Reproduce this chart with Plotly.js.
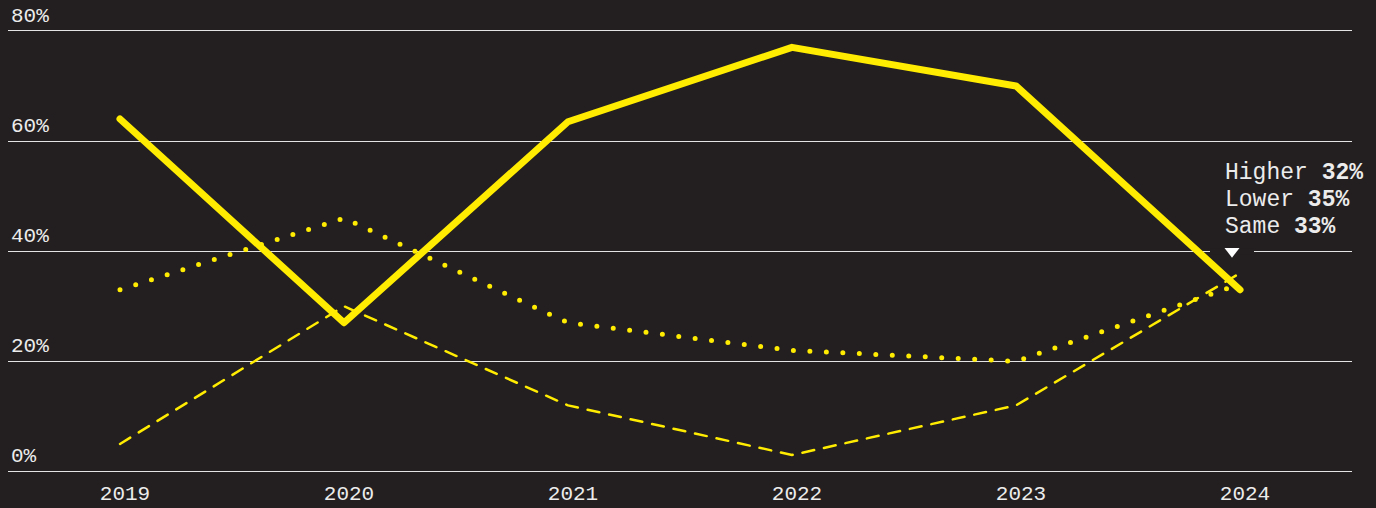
<!DOCTYPE html>
<html>
<head>
<meta charset="utf-8">
<script src="https://cdn.plot.ly/plotly-3.0.1.min.js"></script>
<style>
  html, body { margin: 0; padding: 0; background: #231f20; }
  #chart { width: 1376px; height: 508px; }
  .scatterlayer .js-line { stroke-linecap: round; stroke-linejoin: round; }
</style>
</head>
<body>
<div id="chart"></div>
<script>
// ---- data ----
const years = [2019, 2020, 2021, 2022, 2023, 2024];
const yearLabels = ["2019", "2020", "2021", "2022", "2023", "2024"];
const higher = [64, 27, 63.5, 77, 70, 33];
const same = [33, 46, 27, 22, 20, 34];
const lower = [5, 30, 12, 3, 12, 36];
const yTicks = [0, 20, 40, 60, 80];
const yTickLabels = ["0%", "20%", "40%", "60%", "80%"];
const latestLabels = ["Higher", "Lower", "Same"];
const latestValues = ["32%", "35%", "33%"];

// ---- style ----
const BG = "#231f20";
const YELLOW = "#ffec00";
const TEXT = "#ececec";
const FONT = "Liberation Mono, DejaVu Sans Mono, monospace";

const traces = [
  { x: years, y: lower, name: "Lower", type: "scatter", mode: "lines",
    line: { color: YELLOW, width: 2.5, dash: "12px,10px" }, hoverinfo: "skip", cliponaxis: false },
  { x: years, y: same, name: "Same", type: "scatter", mode: "lines",
    line: { color: YELLOW, width: 5, dash: "0px,16.5px" }, hoverinfo: "skip", cliponaxis: false },
  { x: years, y: higher, name: "Higher", type: "scatter", mode: "lines",
    line: { color: YELLOW, width: 7 }, hoverinfo: "skip", cliponaxis: false },
  { x: [years[years.length - 1] - 8 / 224], y: [yTicks[2]], type: "scatter", mode: "markers",
    marker: { symbol: "triangle-down", size: 13, color: "#ffffff" }, hoverinfo: "skip", cliponaxis: false }
];

const annotations = latestLabels.map((lab, i) => ({
  xref: "x", yref: "y",
  x: years[years.length - 1], y: yTicks[2],
  xshift: -17, yshift: 78 - i * 27,
  xanchor: "left", yanchor: "middle",
  showarrow: false,
  text: lab + " <b>" + latestValues[i] + "</b>",
  font: { family: FONT, size: 23, color: TEXT }
}));

const layout = {
  width: 1376, height: 508,
  paper_bgcolor: BG, plot_bgcolor: BG,
  margin: { l: 8, r: 24, t: 0, b: 31, pad: 0 },
  showlegend: false,
  xaxis: {
    range: [2018.5, 2024.5],
    tickmode: "array", tickvals: years, ticktext: yearLabels,
    showgrid: false, zeroline: false, showline: false, ticks: "",
    tickfont: { family: FONT, size: 21, color: TEXT },
    ticklabelstandoff: 1,
    ticklabelshift: 5,
    fixedrange: true
  },
  yaxis: {
    range: [-1, 85.6],
    tickmode: "array", tickvals: yTicks, ticktext: yTickLabels,
    showgrid: true, gridcolor: "#e4e4e4", gridwidth: 1,
    zeroline: false, showline: false, ticks: "",
    ticklabelposition: "inside top",
    ticklabelstandoff: 0,
    ticklabelshift: -2,
    tickfont: { family: FONT, size: 21, color: TEXT },
    fixedrange: true
  },
  shapes: [{
    type: "rect", layer: "between",
    xref: "x", yref: "y",
    xsizemode: "pixel", ysizemode: "pixel",
    xanchor: years[years.length - 1], yanchor: yTicks[2],
    x0: -30, x1: 14, y0: -3, y1: 3,
    fillcolor: BG, line: { width: 0 }
  }],
  annotations: annotations
};

Plotly.newPlot("chart", traces, layout, { displayModeBar: false, staticPlot: true });
</script>
</body>
</html>
